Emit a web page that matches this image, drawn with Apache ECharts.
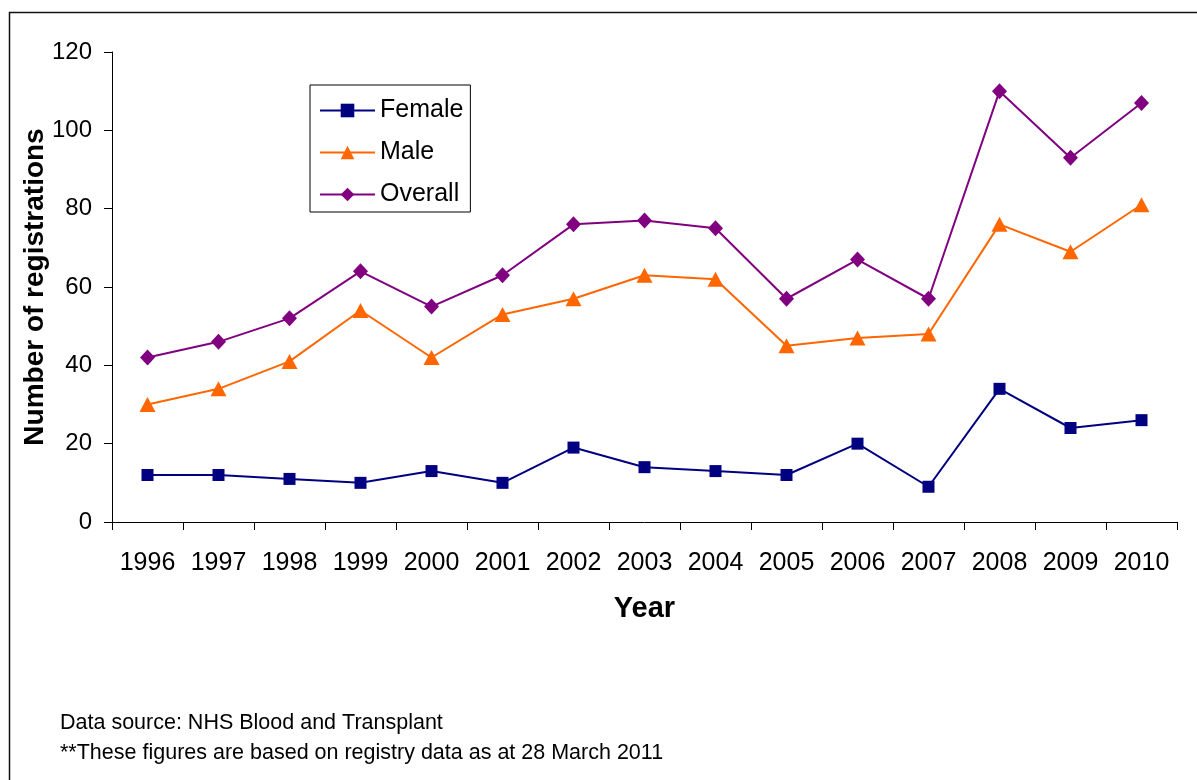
<!DOCTYPE html>
<html>
<head>
<meta charset="utf-8">
<script src="https://cdn.jsdelivr.net/npm/echarts@6/dist/echarts.min.js"></script>
<style>
html,body{margin:0;padding:0;background:#fff;}
#chart{width:1197px;height:780px;}
</style>
</head>
<body>
<div id="chart"></div>
<script>
var years = ['1996','1997','1998','1999','2000','2001','2002','2003','2004','2005','2006','2007','2008','2009','2010'];
var female = [12,12,11,10,13,10,19,14,13,12,20,9,34,24,26];
var male = [30,34,41,54,42,53,57,63,62,45,47,48,76,69,81];
var overall = [42,46,52,64,55,63,76,77,75,57,67,57,110,93,107];
var yTicks = [0,20,40,60,80,100,120];
var footnotes = ['Data source: NHS Blood and Transplant','**These figures are based on registry data as at 28 March 2011'];

var FONT = '"Liberation Sans", Arial, sans-serif';
var chart = echarts.init(document.getElementById('chart'), null, {renderer:'canvas'});
chart.setOption({
  backgroundColor:'#fff',
  animation:false,
  textStyle:{fontFamily:FONT},
  grid:{left:112, right:20, top:52, bottom:258, containLabel:false},
  legend:{
    orient:'vertical', left:310, top:85,
    padding:[13,7,5,9],
    itemGap:17,
    itemWidth:55, itemHeight:17,
    borderColor:'#000', borderWidth:1,
    backgroundColor:'#fff',
    textStyle:{fontSize:25, color:'#000', fontFamily:FONT},
    data:['Female','Male','Overall']
  },
  xAxis:{
    type:'category', data:years, boundaryGap:true,
    name:'Year', nameLocation:'middle', nameGap:72, nameMoveOverlap:false,
    nameTextStyle:{fontSize:29, fontWeight:'bold', color:'#000', fontFamily:FONT},
    axisLine:{lineStyle:{color:'#000', width:1}},
    axisTick:{show:true, length:8, inside:false, alignWithLabel:false, lineStyle:{color:'#000'}},
    axisLabel:{fontSize:25, color:'#000', margin:29, fontFamily:FONT, interval:0},
    splitLine:{show:false}
  },
  yAxis:{
    type:'value', min:yTicks[0], max:yTicks[yTicks.length-1], interval:20,
    name:'Number of registrations', nameLocation:'middle', nameGap:63, nameRotate:90, nameMoveOverlap:false,
    nameTextStyle:{fontSize:28, fontWeight:'bold', color:'#000', fontFamily:FONT},
    axisLine:{show:true, lineStyle:{color:'#000', width:1}},
    axisTick:{show:true, length:8, lineStyle:{color:'#000'}},
    axisLabel:{fontSize:24, color:'#000', margin:20, fontFamily:FONT},
    splitLine:{show:false}
  },
  series:[
    {name:'Female', type:'line', data:female, color:'#000080',
     symbol:'rect', symbolSize:12, lineStyle:{width:2, color:'#000080'},
     itemStyle:{color:'#000080'}},
    {name:'Male', type:'line', data:male, color:'#FF6600',
     symbol:'triangle', symbolSize:[16,15], lineStyle:{width:2, color:'#FF6600'},
     itemStyle:{color:'#FF6600'}},
    {name:'Overall', type:'line', data:overall, color:'#800080',
     symbol:'diamond', symbolSize:[15,16], lineStyle:{width:2, color:'#800080'},
     itemStyle:{color:'#800080'}}
  ],
  graphic:[
    {type:'rect', x:0, y:0, shape:{x:9.5,y:12.5,width:1200,height:800},
     style:{fill:null, stroke:'#111', lineWidth:1.5}, silent:true, z:-1},
    {type:'text', left:60, top:712, style:{text:footnotes[0], font:'21.5px '+FONT, fill:'#000'}},
    {type:'text', left:60, top:742, style:{text:footnotes[1], font:'21.5px '+FONT, fill:'#000'}}
  ]
});
</script>
</body>
</html>
